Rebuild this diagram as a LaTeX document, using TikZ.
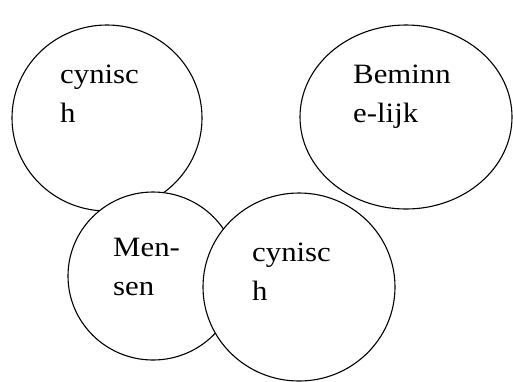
\documentclass[tikz,border=0pt]{standalone}
\usepackage{fontspec}
\setmainfont{Liberation Serif}
\newfontfamily\bubblefont[FakeStretch=1.1]{Liberation Serif}
\usetikzlibrary{shapes.geometric}

\begin{document}
\begin{tikzpicture}[x=1pt, y=-1pt,
    bubble/.style={draw, ellipse, fill=white, line width=1.1pt, inner sep=0pt},
    word/.style={anchor=base west, align=left, inner sep=0pt,
        font=\bubblefont\fontsize{28}{39}\selectfont}]
    \useasboundingbox (0,0) rectangle (513,381);

    % bovenste cirkels
    \node (cynA) [bubble, minimum width=190pt, minimum height=186pt] at (107,118) {};
    \node (bem) [bubble, minimum width=212pt, minimum height=184pt] at (406,117) {};
    \node (cynAtxt) [word] at (60,122) {cynisc\\h};
    \node (bemtxt) [word] at (353,122) {Beminn\\e-lijk};

    % onderste cirkels
    \node (men) [bubble, minimum width=170pt, minimum height=168pt] at (153,276) {};
    \node (mentxt) [word] at (113,295) {Men-\\sen};
    \node (cynB) [bubble, minimum width=192pt, minimum height=188pt] at (299,287) {};
    \node (cynBtxt) [word] at (252,300) {cynisc\\h};
\end{tikzpicture}
\end{document}
